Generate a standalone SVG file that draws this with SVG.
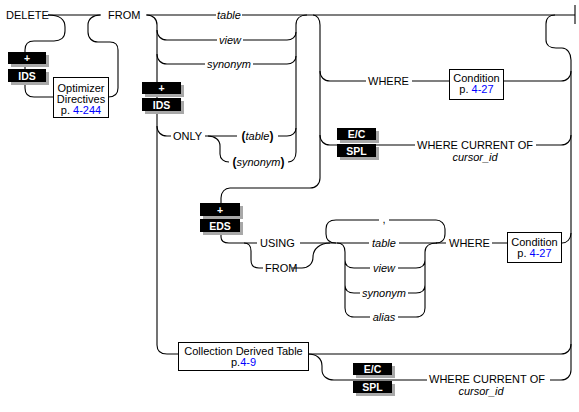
<svg xmlns="http://www.w3.org/2000/svg" width="579" height="412" viewBox="0 0 579 412">
<style>
.ln{fill:none;stroke:#000;stroke-width:1.1}
.t{font-family:"Liberation Sans",Arial,sans-serif;font-size:11px;fill:#000}
.i{font-style:italic}
.m{text-anchor:middle}
.p{font-weight:bold;font-style:normal;font-size:12px}
.lk{fill:#0000ff}
.bx{fill:#fff;stroke:#000;stroke-width:1}
.sh{fill:#a8a8a8}
.bk{fill:#000}
.bt{font-family:"Liberation Sans",Arial,sans-serif;font-size:10.5px;font-weight:bold;fill:#fff;text-anchor:middle}
</style>
<rect width="579" height="412" fill="#fff"/>
<g id="connectors">
<path class="ln" d="M48,15 H101"/>
<path class="ln" d="M48,15 C60,15 65,20 65,27 V31 C65,38 60,41 54,41 H34 C28,41 25,44 25,50 V88 C25,94 28,97 34,97 H53"/>
<path class="ln" d="M108,97 C114,97 118,94 118,88 V50 C118,45 115,42 110,42 H98 C92,42 88,38 88,32 V25 C88,19 93,15 100,15"/>
<path class="ln" d="M146,15 H216 M242,15 H575"/>
<path class="ln" d="M575,5 V24"/>
<path class="ln" d="M147,15 C153,15 157,19 157,25 V345 C157,351 161,354 167,354 H178"/>
<path class="ln" d="M157,30 C157,36 161,40 167,40 H217 M243,40 H287 C292,40 296,37 296,32"/>
<path class="ln" d="M157,54 C157,60 161,64 167,64 H205 M253,64 H287 C292,64 296,61 296,56"/>
<path class="ln" d="M296,152 V25 C296,19 300,15 307,15"/>
<path class="ln" d="M157,126 C157,132 161,136 167,136 H171 M205,136 H237 M278,136 H287 C292,136 296,133 296,128"/>
<path class="ln" d="M208,136 C215,136 220,140 220,146 V154 C220,159 224,162 229,162 M288,162 C293,162 296,158 296,152"/>
<path class="ln" d="M313,15 C317,15 320,19 320,25 V178 C320,184 316,188 310,188 H230 C225,188 221,192 221,198 V237 C221,241 224,243 229,243 H257"/>
<path class="ln" d="M320,71 C320,77 324,81 330,81 H366 M412,81 H449 M503,81 H561 C567,81 571,77 571,71"/>
<path class="ln" d="M320,135 C320,141 324,145 330,145 H415 M536,145 H561 C567,145 571,141 571,135"/>
<path class="ln" d="M555,15 C550,15 546,18 546,24 V40 C546,45 550,48 556,48 H562 C567,48 571,53 571,60 V370"/>
<path class="ln" d="M300,243 H369 M399,243 H446"/>
<path class="ln" d="M244,243 C249,243 251,246 251,251 V260 C251,265 254,268 259,268 H263 M292,268 H302 C308,268 313,264 313,257 C313,249 320,243 330,243"/>
<path class="ln" d="M336,243 C330,243 326,240 326,234 V229 C326,223 330,220 336,220 H379 M389,220 H436 C441,220 445,224 445,229 V234 C445,240 441,243 436,243"/>
<path class="ln" d="M337,243 C342,243 345,246 345,252 V308 C345,313 348,317 354,317 H370 M345,260 C345,265 348,268 354,268 H370 M345,285 C345,290 348,293 354,293 H360"/>
<path class="ln" d="M437,243 C430,243 425,246 425,252 V308 C425,313 422,317 416,317 H398 M398,268 H416 C422,268 425,265 425,260 M408,293 H416 C422,293 425,290 425,285"/>
<path class="ln" d="M492,243 H507 M562,243 C567,243 571,239 571,233"/>
<path class="ln" d="M308,354 H561 C567,354 571,350 571,344"/>
<path class="ln" d="M308,354 C316,354 322,358 322,366 V370 C322,376 327,380 334,380 H427 M550,380 H561 C567,380 571,376 571,370"/>
</g>
<g id="delete"><text class="t" x="6" y="19">DELETE</text></g>
<g id="from"><text class="t" x="108" y="19">FROM</text></g>
<g id="ids1">
<rect class="sh" x="11" y="55" width="38" height="12"/><rect class="bk" x="8" y="52" width="38" height="12"/><text class="bt" x="27" y="62">+</text>
<rect class="sh" x="11" y="72" width="38" height="13"/><rect class="bk" x="8" y="69" width="38" height="13"/><text class="bt" x="27" y="79.5">IDS</text>
</g>
<g id="optimizer">
<rect class="bx" x="53.5" y="77.5" width="55" height="40"/>
<text class="t m" x="81" y="92">Optimizer</text>
<text class="t m" x="81" y="103">Directives</text>
<text class="t m" x="81" y="114">p. <tspan class="lk">4-244</tspan></text>
</g>
<g id="table1"><text class="t i m" x="229" y="19">table</text></g>
<g id="view1"><text class="t i m" x="230" y="44">view</text></g>
<g id="synonym1"><text class="t i m" x="229" y="68">synonym</text></g>
<g id="ids2">
<rect class="sh" x="145" y="85" width="39" height="12"/><rect class="bk" x="142" y="82" width="39" height="12"/><text class="bt" x="161.5" y="92">+</text>
<rect class="sh" x="145" y="101" width="39" height="13"/><rect class="bk" x="142" y="98" width="39" height="13"/><text class="bt" x="161.5" y="108.5">IDS</text>
</g>
<g id="only"><text class="t" x="173" y="140">ONLY</text></g>
<g id="ptable"><text class="t m" x="257.5" y="140"><tspan class="p">(</tspan><tspan class="i">table</tspan><tspan class="p">)</tspan></text></g>
<g id="psynonym"><text class="t m" x="258.5" y="166"><tspan class="p">(</tspan><tspan class="i">synonym</tspan><tspan class="p">)</tspan></text></g>
<g id="where1"><text class="t" x="368" y="85">WHERE</text></g>
<g id="condition1">
<rect class="bx" x="449.5" y="69.5" width="54" height="30"/>
<text class="t m" x="476.5" y="82">Condition</text>
<text class="t m" x="476.5" y="93">p. <tspan class="lk">4-27</tspan></text>
</g>
<g id="ecspl1">
<rect class="sh" x="340" y="131" width="39" height="12"/><rect class="bk" x="337" y="128" width="39" height="12"/><text class="bt" x="356.5" y="138">E/C</text>
<rect class="sh" x="340" y="147" width="39" height="13"/><rect class="bk" x="337" y="144" width="39" height="13"/><text class="bt" x="356.5" y="154.5">SPL</text>
</g>
<g id="wco1">
<text class="t" x="417" y="148.5">WHERE CURRENT OF</text>
<text class="t i m" x="475" y="161">cursor_id</text>
</g>
<g id="eds">
<rect class="sh" x="203" y="206" width="40" height="13"/><rect class="bk" x="200" y="203" width="40" height="13"/><text class="bt" x="220" y="213.5">+</text>
<rect class="sh" x="203" y="222" width="40" height="13"/><rect class="bk" x="200" y="219" width="40" height="13"/><text class="bt" x="220" y="229.5">EDS</text>
</g>
<g id="using"><text class="t" x="260" y="247">USING</text></g>
<g id="from2"><text class="t" x="265" y="272">FROM</text></g>
<g id="comma"><text class="t m" x="384" y="223">,</text></g>
<g id="table2"><text class="t i m" x="384" y="247">table</text></g>
<g id="view2"><text class="t i m" x="384" y="272">view</text></g>
<g id="synonym2"><text class="t i m" x="384" y="297">synonym</text></g>
<g id="alias"><text class="t i m" x="384" y="321">alias</text></g>
<g id="where2"><text class="t" x="449" y="247">WHERE</text></g>
<g id="condition2">
<rect class="bx" x="507.5" y="232.5" width="54" height="30"/>
<text class="t m" x="534.5" y="245.5">Condition</text>
<text class="t m" x="534.5" y="256.5">p. <tspan class="lk">4-27</tspan></text>
</g>
<g id="collection">
<rect class="bx" x="178.5" y="342.5" width="130" height="28"/>
<text class="t m" x="243.5" y="355">Collection Derived Table</text>
<text class="t m" x="243.5" y="366">p.<tspan class="lk">4-9</tspan></text>
</g>
<g id="ecspl2">
<rect class="sh" x="356" y="366" width="39" height="12"/><rect class="bk" x="353" y="363" width="39" height="12"/><text class="bt" x="372.5" y="373">E/C</text>
<rect class="sh" x="356" y="384" width="39" height="12"/><rect class="bk" x="353" y="381" width="39" height="12"/><text class="bt" x="372.5" y="391">SPL</text>
</g>
<g id="wco2">
<text class="t" x="429" y="382.5">WHERE CURRENT OF</text>
<text class="t i m" x="481" y="395">cursor_id</text>
</g>
</svg>
